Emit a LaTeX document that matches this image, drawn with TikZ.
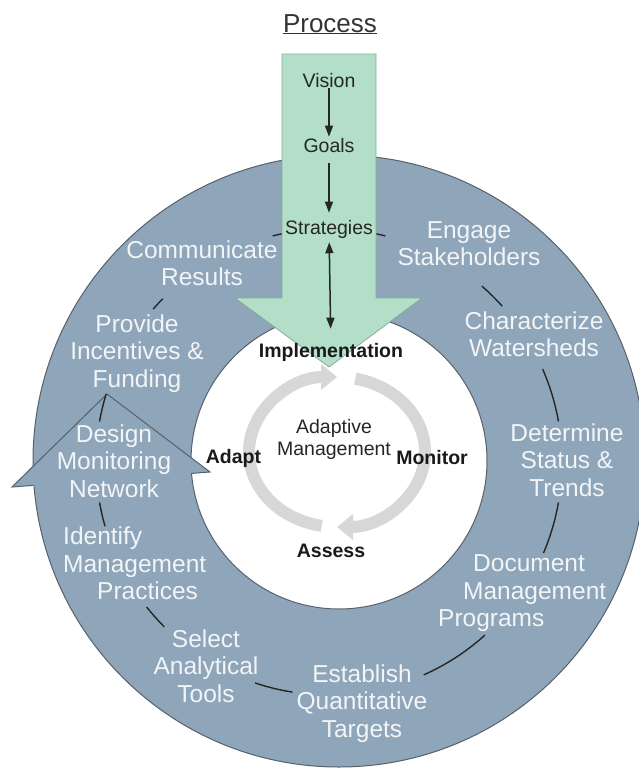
\documentclass[tikz,border=0pt]{standalone}
\usepackage{fontspec}
\setmainfont{Liberation Sans}
\usetikzlibrary{arrows.meta}

\definecolor{ringblue}{HTML}{8FA5B9}
\definecolor{ringedge}{HTML}{56616C}
\definecolor{ringwhite}{HTML}{F2F5F8}
\definecolor{mint}{HTML}{B3DFC9}
\definecolor{mintedge}{HTML}{86AD99}
\definecolor{cyclegray}{HTML}{D7D7D7}

\begin{document}
\begin{tikzpicture}[x=1pt,y=1pt,
    ringtext/.style={text=ringwhite, align=center, inner sep=0pt, font=\fontsize{24.5}{27.5}\selectfont},
    stagetext/.style={text=black!85, inner sep=1pt, font=\fontsize{19.5}{22}\selectfont},
    cyclelabel/.style={text=black!90, inner sep=0pt, font=\fontsize{19.5}{22}\selectfont\bfseries},
    link/.style={line width=1.4pt, black!85},
    flow/.style={line width=1.5pt, black!85, -{Triangle[length=11pt,width=8pt]}},
    cyclearrow/.style={line width=12pt, cyclegray, -{Triangle[length=16pt,width=25pt]}}]
    \useasboundingbox (0,0) rectangle (639,-771);

    \coordinate (ctr) at (339,-461); % ring centre
    \coordinate (lc) at (329,-462);  % centre of the links
    \coordinate (gc) at (337,-452);  % centre of the small cycle

    % ring with the hole
    \fill[ringblue, even odd rule] (ctr) circle (306) (ctr) circle (148);
    \draw[ringedge, line width=1pt] (ctr) circle (306);
    \draw[ringedge, line width=1pt, fill=white] (ctr) circle (148);

    % head on the left side of the ring
    \fill[ringblue] (12,-487) -- (107,-394) -- (210,-472) -- cycle;
    \draw[ringedge, line width=1pt] (33,-485.4) -- (12,-487) -- (107,-394) -- (210,-472) -- (191.5,-473.4);

    % links between the steps
    \draw[link] (lc) ++(104:233) arc (104:76:233);
    \draw[link] (lc) ++(49:233) arc (49:42:233);
    \draw[link] (lc) ++(23.5:233) arc (23.5:10:233);
    \draw[link] (lc) ++(-10:233) arc (-10:-23:233);
    \draw[link] (lc) ++(-48:233) arc (-48:-66:233);
    \draw[link] (lc) ++(-99:233) arc (-99:-108.5:233);
    \draw[link] (lc) ++(-135:233) arc (-135:-141.5:233);
    \draw[link] (lc) ++(-164:233) arc (-164:-170:233);
    \draw[link] (lc) ++(170:233) arc (170:163:233);
    \draw[link] (lc) ++(139:233) arc (139:135.5:233);

    % green process arrow
    \draw[mintedge, fill=mint, line width=0.8pt] (282,-54) -- (376,-54) -- (376,-298) -- (422,-298)
        -- (329,-367) -- (235,-298) -- (282,-298) -- cycle;

    % small cycle
    \draw[cyclearrow] (gc) ++(260:88 and 75) arc (260:90:88 and 75);
    \draw[cyclearrow] (gc) ++(78:88 and 75) arc (78:-90:88 and 75);

    \node (title) at (330,-32) [anchor=base, text=black!80, font=\fontsize{26}{30}\selectfont] {\underline{Process}};

    \node (vision) at (329,-87) [stagetext, anchor=base] {Vision};
    \node (goals) at (329,-152) [stagetext, anchor=base] {Goals};
    \node (strat) at (329,-234) [stagetext, anchor=base] {Strategies};
    \node (impl) at (331,-357) [cyclelabel, anchor=base] {Implementation};

    \draw[flow] (vision) -- (goals);
    \draw[flow, shorten <=10pt, shorten >=6pt] (goals) -- (strat);
    \draw[flow, {Triangle[length=11pt,width=8pt]}-{Triangle[length=11pt,width=8pt]}, shorten <=3pt, shorten >=14pt] (strat) -- (impl);

    \node (adapt) at (233.5,-463) [cyclelabel, anchor=base] {Adapt};
    \node (monitor) at (432,-464) [cyclelabel, anchor=base] {Monitor};
    \node (assess) at (331,-557) [cyclelabel, anchor=base] {Assess};
    \node (am) at (334,-439) [stagetext, align=center, inner sep=0pt] {Adaptive\\Management};

    % steps on the ring
    \node (engage) at (469,-243.5) [ringtext] {Engage\\Stakeholders};
    \node (charac) at (534,-334) [ringtext] {Characterize\\Watersheds};
    \node (determ) at (567,-460) [ringtext] {Determine\\Status \&\\Trends};
    \node (docum) at (438,-593.5) [ringtext, anchor=west, align=left] {\hspace*{35pt}Document\\\hspace*{25pt}Management\\Programs};
    \node (establ) at (362,-703.5) [ringtext] {Establish\\Quantitative\\Targets};
    \node (select) at (206,-666) [ringtext] {Select\\Analytical\\Tools};
    \node (ident) at (63,-563.5) [ringtext, anchor=west, align=left] {Identify\\Management\\\hspace*{34pt}Practices};
    \node (design) at (114,-461) [ringtext] {Design\\Monitoring\\Network};
    \node (provide) at (137,-353.5) [ringtext] {Provide\\Incentives \&\\Funding};
    \node (comm) at (202,-263) [ringtext] {Communicate\\Results};
\end{tikzpicture}
\end{document}
